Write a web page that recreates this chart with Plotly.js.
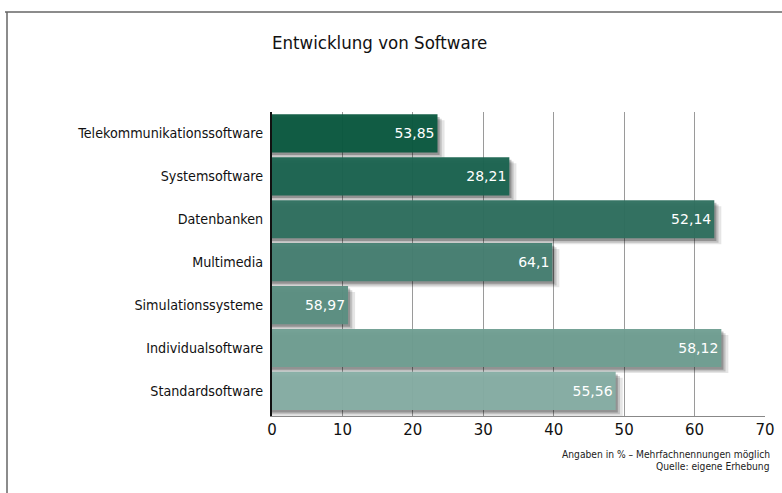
<!DOCTYPE html>
<html>
<head>
<meta charset="utf-8">
<script src="https://cdn.plot.ly/plotly-3.0.1.min.js"></script>
<style>html,body{margin:0;padding:0;background:#fff;}#chart{width:782px;height:493px;}</style>
</head>
<body>
<div id="chart"></div>
<script>
// Data
const categories = ["Telekommunikationssoftware","Systemsoftware","Datenbanken","Multimedia","Simulationssysteme","Individualsoftware","Standardsoftware"];
const barLengths = [23.5, 33.7, 62.8, 39.8, 10.8, 63.8, 48.8];
const valueLabels = ["53,85","28,21","52,14","64,1","58,97","58,12","55,56"];
const barColors = ["#0b5a41","#1b6450","#2f6f5f","#467f71","#5b8f81","#6f9e92","#86aea4"];
const xTicks = [0,10,20,30,40,50,60,70];

const W = 782, H = 493;
const M = {l: 272, r: 17, t: 112, b: 77};
const pw = W - M.l - M.r, ph = H - M.t - M.b;
const px = x => (x - M.l) / pw;          // pixel -> paper x
const py = y => (H - M.b - y) / ph;      // pixel -> paper y

const condensed = '"Liberation Sans Narrow","DejaVu Sans Condensed","Roboto Condensed","Arial Narrow",sans-serif';
const numFont = '"DejaVu Sans","Liberation Sans",Arial,sans-serif';
const barWidth = 0.89;

const shadowLayers = [
  {dx: 1.0, dy: 0.14, c: 'rgba(0,0,0,0.10)'},
  {dx: 0.6, dy: 0.10, c: 'rgba(0,0,0,0.16)'},
  {dx: 0.3, dy: 0.06, c: 'rgba(0,0,0,0.24)'}
];
const traces = shadowLayers.map(s => ({
  type: 'bar', orientation: 'h', y: categories,
  x: barLengths.map(v => v + s.dx),
  width: barWidth, offset: -barWidth/2 + s.dy,
  marker: {color: s.c, line: {width: 0}},
  hoverinfo: 'skip', showlegend: false
}));
traces.push({
  type: 'bar', orientation: 'h', y: categories, x: barLengths,
  width: barWidth,
  text: valueLabels, textposition: 'inside', insidetextanchor: 'end',
  textfont: {color: '#ffffff', size: 14, family: numFont},
  marker: {color: barColors, opacity: 0.96, line: {width: 0}},
  showlegend: false
});

const shapes = [
  {type: 'line', xref: 'paper', yref: 'paper', x0: px(5), x1: px(784), y0: py(12), y1: py(12), line: {color: '#666', width: 1.5}},
  {type: 'line', xref: 'paper', yref: 'paper', x0: px(7), x1: px(7), y0: py(12), y1: py(495), line: {color: '#666', width: 1.5}}
];

const layout = {
  width: W, height: H,
  margin: M,
  paper_bgcolor: '#fff', plot_bgcolor: '#fff',
  barmode: 'overlay',
  showlegend: false,
  title: {text: 'Entwicklung von Software', x: px(272), xanchor: 'left', xref: 'paper', y: 1 - 43/H, yanchor: 'middle',
          font: {family: condensed, size: 18.5, color: '#111'}},
  xaxis: {range: [0, 70], tickvals: xTicks, ticktext: xTicks.map(String), showgrid: true, gridcolor: '#9a9a9a', gridwidth: 1,
          zeroline: false, showline: true, linecolor: '#888', linewidth: 1, ticks: '', ticklen: 0,
          tickfont: {family: numFont, size: 15, color: '#111'}, fixedrange: true},
  yaxis: {autorange: 'reversed', showgrid: false, showline: true, linecolor: '#111', linewidth: 2, ticks: '',
          ticksuffix: ' ', tickfont: {family: condensed, size: 14.2, color: '#111'}, fixedrange: true},
  shapes: shapes,
  annotations: [
    {text: 'Angaben in % – Mehrfachnennungen möglich', xref: 'paper', yref: 'paper', x: px(772), y: py(454), xanchor: 'right', yanchor: 'middle',
     showarrow: false, font: {family: condensed, size: 10.2, color: '#222'}},
    {text: 'Quelle: eigene Erhebung', xref: 'paper', yref: 'paper', x: px(772), y: py(467), xanchor: 'right', yanchor: 'middle',
     showarrow: false, font: {family: condensed, size: 10.2, color: '#222'}}
  ]
};

Plotly.newPlot('chart', traces, layout, {displayModeBar: false, staticPlot: true});
</script>
</body>
</html>
